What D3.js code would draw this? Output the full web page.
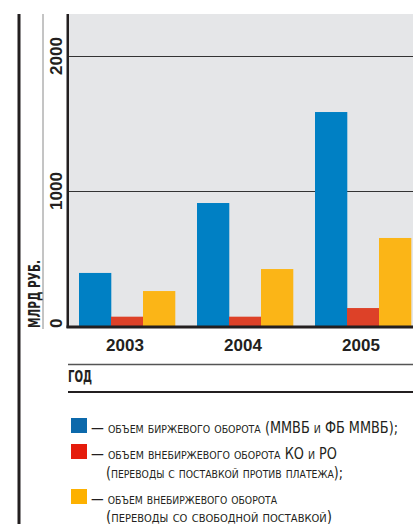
<!DOCTYPE html>
<html>
<head>
<meta charset="utf-8">
<script src="https://cdn.jsdelivr.net/npm/d3@7"></script>
<style>
  body { margin: 0; background: #fff; }
  svg { display: block; }
  .num { font-family: "Liberation Sans", Arial, sans-serif; font-weight: bold; fill: #231f20; }
  .cond { font-family: "Liberation Sans Narrow", "DejaVu Sans Condensed", "Roboto Condensed", sans-serif; fill: #231f20; }
  .sc { font-variant: small-caps; }
</style>
</head>
<body>
<div id="chart"></div>
<script>
var years = ['2003', '2004', '2005'];
var series = ['exchange', 'otcDvp', 'otcFree'];
var exchange = [393, 911, 1585];
var otcDvp = [69, 69, 133];
var otcFree = [259, 422, 652];
var yTicks = [0, 1000, 2000];
var barColors = ['#0080c4', '#dd4128', '#fbb517'];
var legendColors = ['#0c69ab', '#e51c0c', '#fdb100'];
var legendLines = [
  ['— объем биржевого оборота (ММВБ и ФБ ММВБ);'],
  ['— объем внебиржевого оборота КО и РО', '(переводы с поставкой против платежа);'],
  ['— объем внебиржевого оборота', '(переводы со свободной поставкой)']
];
var yLabel = 'МЛРД РУБ.';
var xLabel = 'ГОД';

var W = 413, H = 524;
var mLeft = 68, mBottom = 326, mTop = 14, mRight = 413;

var svg = d3.select('#chart').append('svg')
    .attr('width', W)
    .attr('height', H);

var y = d3.scaleLinear()
    .domain([0, 2000])
    .range([mBottom, 56]);

var x = d3.scaleBand()
    .domain(years)
    .range([mLeft, mLeft + 118 * 3]);

var x1 = d3.scaleBand()
    .domain(series)
    .range([11, 107]);

// plot background
svg.append('rect')
    .attr('x', mLeft)
    .attr('y', mTop)
    .attr('width', mRight - mLeft)
    .attr('height', mBottom - mTop)
    .attr('fill', '#e5e6e8');

// frame lines on the left
svg.append('rect').attr('x', 17.5).attr('y', mTop).attr('width', 3).attr('height', H - mTop).attr('fill', '#231f20');
svg.append('line').attr('x1', 43).attr('x2', 43).attr('y1', mTop).attr('y2', 329)
    .attr('stroke', '#8a8a8a').attr('stroke-width', 1);

// grid lines
svg.selectAll('.grid')
    .data(yTicks.filter(function(d) { return d > 0; }))
    .enter().append('line')
    .attr('x1', mLeft).attr('x2', mRight)
    .attr('y1', function(d) { return y(d) + 0.5; })
    .attr('y2', function(d) { return y(d) + 0.5; })
    .attr('stroke', '#333')
    .attr('stroke-width', 1);

// bars
var vals = [exchange, otcDvp, otcFree];
var g = svg.selectAll('.yr')
    .data(years)
    .enter().append('g')
    .attr('transform', function(d) { return 'translate(' + x(d) + ',0)'; });

g.selectAll('rect')
    .data(function(d, i) { return series.map(function(s, j) { return { s: s, v: vals[j][i], j: j }; }); })
    .enter().append('rect')
    .attr('x', function(d) { return x1(d.s); })
    .attr('y', function(d) { return y(d.v); })
    .attr('width', x1.bandwidth() + 0.3)
    .attr('height', function(d) { return y(0) - y(d.v); })
    .attr('fill', function(d) { return barColors[d.j]; });

// axes lines
svg.append('rect').attr('x', mLeft - 1.5).attr('y', mTop).attr('width', 2.5).attr('height', mBottom - mTop + 2).attr('fill', '#231f20');
svg.append('rect').attr('x', mLeft - 1.5).attr('y', mBottom - 0.5).attr('width', mRight - mLeft + 2).attr('height', 3).attr('fill', '#231f20');

// y tick labels (rotated)
svg.selectAll('.ytick')
    .data(yTicks)
    .enter().append('text')
    .attr('class', 'num')
    .attr('font-size', 17)
    .attr('text-anchor', function(d) { return d === 0 ? 'start' : 'middle'; })
    .attr('transform', function(d) {
      var py = d === 0 ? mBottom + 2 : y(d);
      return 'translate(62,' + py + ') rotate(-90)';
    })
    .text(function(d) { return d; });

svg.append('text')
    .attr('class', 'cond')
    .attr('font-size', 15)
    .attr('font-weight', 'bold')
    .attr('transform', 'translate(40,328) rotate(-90)')
    .attr('textLength', 68)
    .attr('lengthAdjust', 'spacingAndGlyphs')
    .text(yLabel);

// x tick labels
svg.selectAll('.xtick')
    .data(years)
    .enter().append('text')
    .attr('class', 'num')
    .attr('font-size', 17)
    .attr('text-anchor', 'middle')
    .attr('x', function(d) { return x(d) + x.bandwidth() / 2 - 2; })
    .attr('y', 351)
    .text(function(d) { return d; });

svg.append('line').attr('x1', mLeft).attr('x2', mRight).attr('y1', 364.5).attr('y2', 364.5)
    .attr('stroke', '#555').attr('stroke-width', 1.5);
svg.append('text')
    .attr('class', 'cond')
    .attr('font-size', 15)
    .attr('font-weight', 'bold')
    .attr('x', mLeft)
    .attr('y', 382)
    .attr('textLength', 24)
    .attr('lengthAdjust', 'spacingAndGlyphs')
    .text(xLabel);
svg.append('line').attr('x1', mLeft).attr('x2', mRight).attr('y1', 392).attr('y2', 392)
    .attr('stroke', '#231f20').attr('stroke-width', 2);

// legend
var legY = [418, 444, 489];
var line2Y = [34, 34, 32.5];
var leg = svg.selectAll('.leg')
    .data(legendLines)
    .enter().append('g')
    .attr('transform', function(d, i) { return 'translate(71,' + legY[i] + ')'; });

leg.append('rect')
    .attr('width', 16).attr('height', 15)
    .attr('fill', function(d, i) { return legendColors[i]; });

var lineLens = [[307, 0], [246, 237], [186, 226]];
leg.each(function(lines, i) {
  var sel = d3.select(this);
  lines.forEach(function(t, k) {
    sel.append('text')
      .attr('class', 'cond sc')
      .attr('font-size', 15)
      .attr('x', k === 0 ? 20 : 35)
      .attr('y', k === 0 ? 14.5 : line2Y[i])
      .attr('textLength', lineLens[i][k])
      .attr('lengthAdjust', 'spacingAndGlyphs')
      .text(t);
  });
});
</script>
</body>
</html>
